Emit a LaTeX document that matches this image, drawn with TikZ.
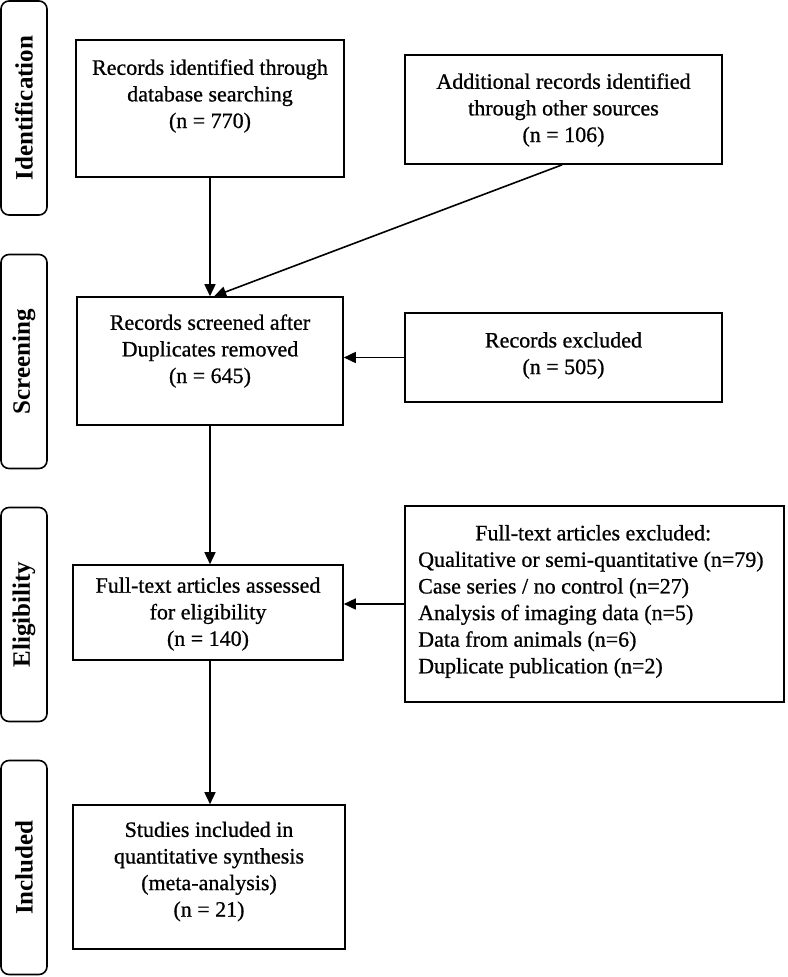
\documentclass[tikz,border=0pt]{standalone}
\usepackage{fontspec}
\setmainfont{Liberation Serif}
\newfontfamily\heavyfont{Liberation Serif}[RawFeature={embolden=0.8}]
\usetikzlibrary{arrows.meta}
\begin{document}
\begin{tikzpicture}[x=1pt,y=-1pt,
  box/.style={draw, line width=1.6pt, inner sep=0pt},
  phase/.style={draw, line width=1.6pt, rounded corners=8pt, inner sep=0pt, minimum width=46pt, minimum height=214pt},
  txt/.style={font=\heavyfont\fontsize{22}{26.6}\selectfont, align=center, inner sep=0pt},
  ptxt/.style={font=\fontsize{25}{28}\selectfont\bfseries, rotate=90, inner sep=0pt},
  arr/.style={line width=1.6pt, -{Triangle[length=12pt,width=11pt]}}]
\useasboundingbox (0,0) rectangle (787,977);

% phase boxes
\node[phase] (p1) at (24,108) {};
\node[phase] (p2) at (24,361.5) {};
\node[phase] (p3) at (24,614.5) {};
\node[phase] (p4) at (24,867.5) {};
\node[ptxt] (l1) at (p1) {Identification};
\node[ptxt] (l2) at (p2) {Screening};
\node[ptxt] (l3) at (p3) {Eligibility};
\node[ptxt] (l4) at (p4) {Included};

% boxes
\node[box, minimum width=268pt, minimum height=137pt] (b1) at (210,108.5) {};
\node[box, minimum width=317pt, minimum height=109pt] (b2) at (563.5,109.5) {};
\node[box, minimum width=266pt, minimum height=128pt] (b3) at (210,361) {};
\node[box, minimum width=317pt, minimum height=89pt] (b4) at (563.5,357.5) {};
\node[box, minimum width=270pt, minimum height=95pt] (b5) at (208,612.5) {};
\node[box, minimum width=379pt, minimum height=196pt] (b6) at (594.5,604) {};
\node[box, minimum width=272pt, minimum height=144pt] (b7) at (209,877) {};

% texts
\node[txt] (t1) at (210,96) {Records identified through\\database searching\\(n = 770)};
\node[txt] (t2) at (563.5,110) {Additional records identified\\through other sources\\(n = 106)};
\node[txt] (t3) at (210,351) {Records screened after\\Duplicates removed\\(n = 645)};
\node[txt] (t4) at (563.5,355.5) {Records excluded\\(n = 505)};
\node[txt] (t5) at (208,614) {Full-text articles assessed\\for eligibility\\(n = 140)};
\node[txt, align=left, anchor=west] (t6) at (418,601.5) {\makebox[350pt][c]{Full-text articles excluded:}\\Qualitative or semi-quantitative (n=79)\\Case series / no control (n=27)\\Analysis of imaging data (n=5)\\Data from animals (n=6)\\Duplicate publication (n=2)};
\node[txt] (t7) at (209,871.5) {Studies included in\\quantitative synthesis\\(meta-analysis)\\(n = 21)};

% arrows
\draw[arr] (b1.south) -- (b1.south |- b3.north);
\draw[arr] ([xshift=158pt]b2.south west) -- ([xshift=138pt]b3.north west);
\draw[arr] (b4.west) -- (b4.west -| b3.east);
\draw[arr] (b3.south) -- (b3.south |- b5.north);
\draw[arr] (b6.west) -- (b6.west -| b5.east);
\draw[arr] ([xshift=2pt]b5.south) -- ([xshift=2pt]b5.south |- b7.north);
\end{tikzpicture}
\end{document}
